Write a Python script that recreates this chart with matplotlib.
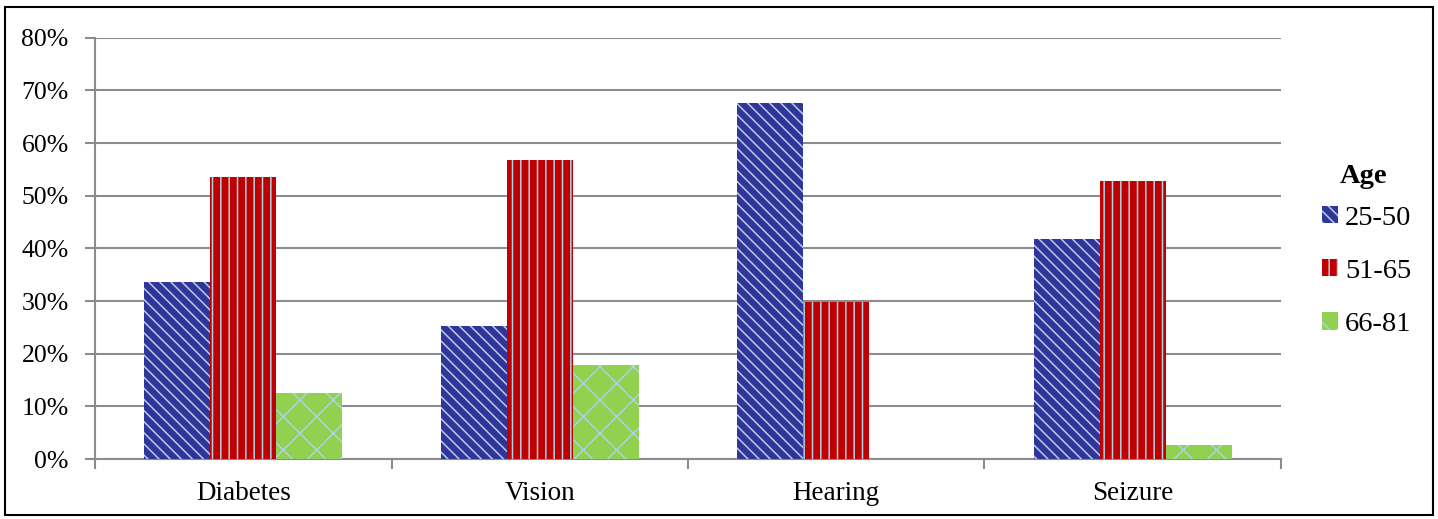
import matplotlib.pyplot as plt
import numpy as np
from matplotlib.patches import Rectangle

plt.rcParams['font.family'] = ['Liberation Serif', 'DejaVu Serif']
plt.rcParams['hatch.linewidth'] = 1.1

# Share of respondents per condition, by age group
categories = ['Diabetes', 'Vision', 'Hearing', 'Seizure']
age_groups = ['25-50', '51-65', '66-81']
age_25_50 = [33.7, 25.3, 67.6, 41.7]
age_51_65 = [53.6, 56.8, 29.9, 52.8]
age_66_81 = [12.5, 17.8, 0.0, 2.6]

colors = ['#333399', '#c00000', '#92d050']
hatches = ['\\\\\\', '||', 'x']
hatch_color = '#a9d4e8'

fig = plt.figure(figsize=(14.38, 5.19), dpi=100)
ax = fig.add_axes([0.0661, 0.1156, 0.8247, 0.8118])

x = np.arange(len(categories))
width = 0.2226
series = [age_25_50, age_51_65, age_66_81]
for i, (vals, c, h, lab) in enumerate(zip(series, colors, hatches, age_groups)):
    ax.bar(x + (i - 1) * width, vals, width, color=c, hatch=h,
           edgecolor=hatch_color, linewidth=0, label=lab, zorder=3)

grid_c = '#8c8c8c'
ax.set_ylim(0, 80)
ax.set_yticks(range(0, 81, 10))
ax.set_yticklabels([f'{v}%' for v in range(0, 81, 10)])
ax.yaxis.grid(True, color=grid_c, linewidth=1.5, zorder=0)
ax.set_axisbelow(True)

ax.set_xlim(-0.5, len(categories) - 0.5)
ax.set_xticks(np.arange(-0.5, len(categories), 1.0))
ax.set_xticklabels([])
ax.set_xticks(x, minor=True)
ax.set_xticklabels(categories, minor=True)
ax.tick_params(axis='x', which='minor', length=0, labelsize=19.5, pad=16)
ax.tick_params(axis='x', which='major', length=7, width=1.5, color=grid_c)
ax.tick_params(axis='y', length=7, width=1.5, color=grid_c, labelsize=18.5, pad=12)

for side in ['top', 'right']:
    ax.spines[side].set_visible(False)
for side in ['left', 'bottom']:
    ax.spines[side].set_color(grid_c)
    ax.spines[side].set_linewidth(1.5)

# legend entries plus a separate bold title above them
leg = ax.legend(loc='center left', bbox_to_anchor=(0.9195, 0.477),
                bbox_transform=fig.transFigure, frameon=False,
                fontsize=20.5, handlelength=0.55, handleheight=0.55,
                handletextpad=0.25, labelspacing=0.99, borderpad=0,
                borderaxespad=0)
fig.text(0.948, 0.659, 'Age', fontsize=20.5, fontweight='bold',
         ha='center', va='center')

# thin black frame around the whole chart
fig.patches.append(Rectangle((0.0035, 0.008), 0.993, 0.979, transform=fig.transFigure,
                             fill=False, edgecolor='black', linewidth=1.5))

fig.savefig('out.png', dpi=100)
